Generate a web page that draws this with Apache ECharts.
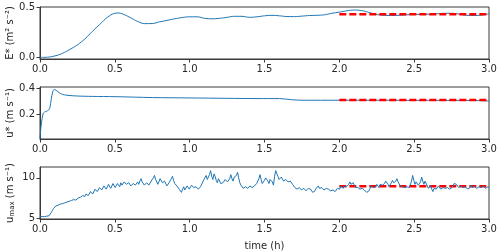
<!DOCTYPE html>
<html><head><meta charset="utf-8">
<script src="https://cdn.jsdelivr.net/npm/echarts@6/dist/echarts.min.js"></script>
<style>html,body{margin:0;padding:0;background:#fff}#c{width:500px;height:251px}</style>
</head><body><div id="c"></div>
<script>
// ---- data ----
const xTicks = [0, 0.5, 1.0, 1.5, 2.0, 2.5, 3.0];
const eTicks = [0.0, 0.5];
const uTicks = [0.2, 0.4];
const mTicks = [5, 10];

const eTime = [0,0.05,0.1,0.15,0.2,0.25,0.3,0.35,0.4,0.45,0.5,0.525,0.55,0.6,0.65,0.7,0.75,0.8,0.85,0.9,0.95,1.0,1.05,1.1,1.15,1.2,1.25,1.3,1.35,1.4,1.45,1.5,1.55,1.6,1.65,1.7,1.75,1.8,1.85,1.9,1.95,2.0,2.05,2.1,2.15,2.2,2.25,2.3,2.35,2.4,2.45,2.5,2.55,2.6,2.65,2.7,2.75,2.8,2.85,2.9,2.95,3.0];
const eStar = [0.0,0.002,0.015,0.04,0.08,0.125,0.185,0.26,0.33,0.40,0.44,0.443,0.435,0.40,0.36,0.337,0.338,0.355,0.37,0.385,0.398,0.405,0.405,0.39,0.385,0.39,0.40,0.41,0.41,0.40,0.405,0.415,0.42,0.415,0.408,0.407,0.412,0.418,0.42,0.425,0.44,0.452,0.465,0.473,0.467,0.448,0.428,0.42,0.418,0.42,0.425,0.428,0.43,0.432,0.435,0.44,0.44,0.432,0.42,0.418,0.422,0.435];

const uTime = [0,0.005,0.01,0.02,0.03,0.045,0.058,0.066,0.075,0.085,0.095,0.105,0.12,0.135,0.15,0.18,0.25,0.35,0.5,0.75,1.0,1.25,1.45,1.6,1.68,1.75,2.0,2.5,2.9,3.0];
const uStar = [0.01,0.08,0.13,0.2,0.215,0.222,0.232,0.25,0.315,0.375,0.392,0.388,0.375,0.362,0.354,0.347,0.341,0.338,0.336,0.329,0.326,0.323,0.321,0.321,0.312,0.308,0.308,0.307,0.306,0.302];

// u_max read every 0.015 h (uMaxA at t = 0, 0.015, ...) and the samples in between (uMaxB at t = 0.0075, 0.0225, ...)
const mStep = 0.0075;
const uMaxA = [5.2,5.2,5.2,5.25,5.3,5.7,6.2,6.5,6.6,6.75,6.8,6.9,7.0,7.1,7.2,7.3,7.25,7.5,7.6,7.8,
7.7,8.1,7.9,8.4,8.2,8.7,8.4,8.9,8.6,9.0,8.7,9.1,8.8,9.2,8.9,9.1,9.4,9.0,9.6,9.1,
9.3,8.9,9.4,9.0,9.2,9.9,9.3,9.0,9.5,9.2,9.7,10.3,9.6,9.4,9.8,9.2,9.5,9.1,9.6,10.2,
9.3,9.0,8.6,8.2,8.9,8.6,8.9,8.7,9.0,8.6,8.8,8.5,9.1,9.8,10.3,9.6,10.9,9.8,10.2,9.4,
9.7,9.1,9.5,9.9,9.3,10.4,9.6,9.9,10.7,9.4,8.9,8.6,9.0,8.8,9.1,8.7,9.0,9.5,10.4,9.3,
9.7,10.2,9.3,10.0,9.1,10.9,10.2,9.7,10.0,9.5,9.9,9.3,9.5,9.0,8.7,8.5,8.7,8.4,8.6,8.5,
8.9,8.4,8.0,8.7,9.0,8.6,8.8,8.4,8.9,8.5,8.3,8.6,8.4,8.8,9.0,8.7,9.2,8.8,9.5,9.0,
9.2,8.6,8.9,8.5,8.8,8.4,8.1,8.7,9.1,8.6,9.2,8.8,9.4,9.0,9.6,9.2,9.0,9.7,9.2,9.9,
9.3,8.8,9.1,8.6,9.0,8.7,10.3,9.2,9.6,8.9,10.1,9.2,9.5,8.7,9.1,8.3,8.9,8.6,8.8,8.5,
9.0,8.6,8.9,8.5,9.0,9.5,9.1,8.7,9.2,8.6,8.9,8.5,9.1,8.7,8.9,8.6,9.1,8.7,8.9,8.6,8.8];
const uMaxB = [5.2,5.2,5.2,5.28,5.45,5.95,6.4,6.45,6.7,6.65,6.9,6.8,7.1,7.0,7.35,7.2,7.4,7.35,7.75,7.6,
8.0,7.8,8.3,8.0,8.6,8.3,8.8,8.5,9.0,8.6,9.2,8.7,9.3,8.8,9.3,8.9,9.1,9.5,9.2,9.4,
9.0,9.3,9.1,9.5,9.6,9.5,9.1,9.4,9.1,9.6,10.0,9.8,9.2,9.9,9.4,9.6,9.0,9.4,9.9,9.7,
9.1,8.8,8.4,8.6,8.5,9.0,8.6,9.1,8.8,8.9,8.6,8.9,9.5,9.9,9.8,10.4,10.2,10.5,9.7,9.9,
9.3,9.4,9.8,9.5,9.9,9.9,10.1,10.3,10.0,9.1,8.7,8.9,8.7,9.0,8.8,9.0,9.3,9.9,9.8,9.5,
10.0,9.6,9.8,9.5,10.2,10.5,9.8,10.1,9.6,9.8,9.5,9.6,9.2,8.8,8.6,8.8,8.5,8.7,8.4,8.7,
8.6,8.2,8.4,8.9,8.7,8.8,8.5,8.7,8.6,8.4,8.5,8.3,8.7,8.6,8.8,9.0,8.9,9.2,9.2,9.4,
8.8,8.8,8.6,8.7,8.5,8.2,8.4,9.0,8.8,8.9,9.0,9.2,9.1,9.3,9.4,8.9,9.4,9.4,9.6,9.5,
9.0,8.9,8.8,8.9,8.8,9.6,9.7,9.5,9.1,9.5,9.6,9.6,9.0,8.9,8.6,8.7,8.6,9.0,8.6,8.8,
8.7,8.8,8.6,8.8,9.3,9.2,8.8,9.0,8.8,8.9,8.6,8.8,8.8,9.0,8.7,8.9,8.8,9.0,8.7,8.9];

const refTime = [2.0, 3.0];
const eRef = [0.43, 0.43];
const uRef = [0.31, 0.31];
const mRef = [8.95, 8.95];

// ---- chart ----
const pair = (xs, ys) => ys.map((v, i) => [xs[i], v]);
const uMaxData = [];
uMaxA.forEach((v, i) => {
  uMaxData.push([2 * i * mStep, v]);
  if (i < uMaxB.length) uMaxData.push([(2 * i + 1) * mStep, uMaxB[i]]);
});

const FONT = 'DejaVu Sans';
const txt = '#262626';
const spine = '#3a3a3a';
const blue = '#1f77b4';

const grids = [
  {left: 40, right: 11, top: 7, height: 52},
  {left: 40, right: 11, top: 87, height: 52},
  {left: 40, right: 11, top: 167, height: 52}
].map(g => Object.assign(g, {show: true, borderColor: spine, borderWidth: 1, backgroundColor: 'transparent', containLabel: false, outerBoundsMode: 'none'}));

function xAxis(i, name) {
  return {
    type: 'value', gridIndex: i, min: 0, max: 3, interval: 0.5,
    axisLine: {show: true, onZero: false, lineStyle: {color: spine, width: 1}},
    axisTick: {show: true, length: 3.5, lineStyle: {color: spine}},
    axisLabel: {fontFamily: FONT, fontSize: 10, color: txt, margin: 5, formatter: v => v.toFixed(1)},
    splitLine: {show: false},
    name: name || '', nameLocation: 'middle', nameGap: 22, nameMoveOverlap: false,
    nameTextStyle: {fontFamily: FONT, fontSize: 10, color: txt}
  };
}
function yAxis(i, min, max, ticks, fmt, name) {
  return {
    type: 'value', gridIndex: i, min: min, max: max,
    axisLine: {show: true, onZero: false, lineStyle: {color: spine, width: 1}},
    axisTick: {show: true, length: 3.5, lineStyle: {color: spine}, customValues: ticks},
    axisLabel: {fontFamily: FONT, fontSize: 10, color: txt, margin: 5, customValues: ticks, formatter: fmt},
    splitLine: {show: false},
    name: name, nameLocation: 'middle', nameRotate: 90, nameGap: 30, nameMoveOverlap: false,
    nameTextStyle: {fontFamily: FONT, fontSize: 10, color: txt, align: 'center', verticalAlign: 'middle',
      rich: {
        a: {fontFamily: FONT, fontSize: 10, color: txt},
        sub: {fontFamily: FONT, fontSize: 7, color: txt, padding: [4, 0, 0, 0]}
      }}
  };
}

const option = {
  animation: false,
  backgroundColor: '#fff',
  grid: grids,
  xAxis: [xAxis(0), xAxis(1), xAxis(2, 'time (h)')],
  yAxis: [
    yAxis(0, -0.016, 0.503, eTicks, v => v.toFixed(1), 'E* (m² s⁻²)'),
    yAxis(1, 0.003, 0.412, uTicks, v => v.toFixed(1), 'u* (m s⁻¹)'),
    yAxis(2, 4.9, 11.35, mTicks, v => String(Math.round(v)), '{a|u}{sub|max}{a| (m s⁻¹)}')
  ],
  series: [
    {type: 'line', xAxisIndex: 0, yAxisIndex: 0, data: pair(eTime, eStar), smooth: 0.4, showSymbol: false, lineStyle: {color: blue, width: 1}, z: 2},
    {type: 'line', xAxisIndex: 0, yAxisIndex: 0, data: pair(refTime, eRef), showSymbol: false, lineStyle: {color: '#ff0000', width: 2.5, type: [7, 3]}, z: 3},
    {type: 'line', xAxisIndex: 1, yAxisIndex: 1, data: pair(uTime, uStar), smooth: 0.3, showSymbol: false, lineStyle: {color: blue, width: 1}, z: 2},
    {type: 'line', xAxisIndex: 1, yAxisIndex: 1, data: pair(refTime, uRef), showSymbol: false, lineStyle: {color: '#ff0000', width: 2.5, type: [7, 3]}, z: 3},
    {type: 'line', xAxisIndex: 2, yAxisIndex: 2, data: pair(refTime, mRef), showSymbol: false, lineStyle: {color: '#ff0000', width: 2.5, type: [7, 3]}, z: 2},
    {type: 'line', xAxisIndex: 2, yAxisIndex: 2, data: uMaxData, showSymbol: false, lineStyle: {color: blue, width: 1}, z: 3}
  ]
};
const chart = echarts.init(document.getElementById('c'), null, {renderer: 'canvas'});
chart.setOption(option);
</script>
</body></html>
